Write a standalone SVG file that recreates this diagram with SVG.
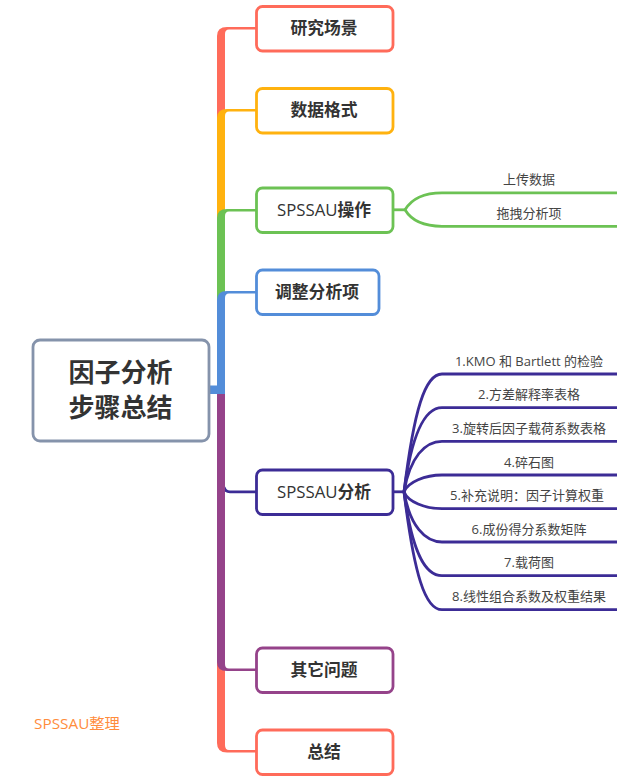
<svg xmlns="http://www.w3.org/2000/svg" width="640" height="780" viewBox="0 0 640 780">
<style>
text{font-family:"Open Sans","Noto Sans CJK SC",sans-serif;text-anchor:middle;fill:#333}
.t{font-size:16.800px;font-weight:700}
.l{font-size:16.800px;font-weight:500}
.k{font-weight:700}
.s{font-size:13px;fill:#444}
.b{fill:#fff;stroke-width:2.800}
.c{fill:none;stroke-width:2.800}
</style>
<rect width="640" height="780" fill="#fff"/>
<g id="connectors">
<path fill="#ff6b5a" d="M217 672L217 36Q217 27 227 27L256 27L256 29.500L229 29.500Q225 29.500 225 34L225 672Z"/>
<path fill="#ffb20f" d="M217 300L217 118Q217 109 227 109L256 109L256 111.500L229 111.500Q225 111.500 225 116L225 300Z"/>
<path fill="#6cc254" d="M217 300L217 218Q217 209 227 209L256 209L256 211.500L229 211.500Q225 211.500 225 216L225 300Z"/>
<path fill="#ff6b5a" d="M217 660L225 660L225 745Q225 750 229 750L256 750L256 752.500L227 752.500Q217 752.500 217 743Z"/>
<path class="c" stroke="#3c2c96" d="M224 487Q225 491.800 230 491.800L256 491.800"/>
<path fill="#95438a" d="M217 386L225 386L225 664Q225 668.500 229 668.500L256 668.500L256 671L227 671Q217 671 217 662Z"/>
<path fill="#538dd9" d="M209 385.500L217 385.500L217 300Q217 291 227 291L256 291L256 293.500L229 293.500Q225 293.500 225 298L225 394L209 394Z"/>
<g class="c" stroke="#6cc254">
<path d="M393 209.800L405 209.800"/>
<path d="M405 209.800C412 198 425 192.800 442 192.800L617 192.800"/>
<path d="M405 209.800C412 221.500 425 226.300 442 226.300L617 226.300"/>
</g>
<g class="c" stroke="#3c2c96">
<path d="M393 491.800L404 491.800"/>
<path d="M404 491.800C414 410 425 374 442 374L617 374"/>
<path d="M404 491.800C412 432 425 407.700 442 407.700L617 407.700"/>
<path d="M404 491.800C410 457 425 441.300 442 441.300L617 441.300"/>
<path d="M404 491.800C408 482 425 475 442 475L617 475"/>
<path d="M404 491.800C408 502 425 508.700 442 508.700L617 508.700"/>
<path d="M404 491.800C410 526 425 542 442 542L617 542"/>
<path d="M404 491.800C412 552 425 575.700 442 575.700L617 575.700"/>
<path d="M404 491.800C414 574 425 609.700 442 609.700L617 609.700"/>
</g>
</g>
<g id="root"><rect class="b" stroke="#8593ab" x="33" y="340" width="176" height="101" rx="7"/><text x="120.500" y="382" font-size="26" font-weight="700">因子分析</text><text x="120.500" y="417" font-size="26" font-weight="700">步骤总结</text></g>
<g id="n1"><rect class="b" stroke="#ff6b5a" x="256.500" y="6.500" width="136.500" height="44.500" rx="6"/><text class="t" x="324" y="34">研究场景</text></g>
<g id="n2"><rect class="b" stroke="#ffb20f" x="256.500" y="88.500" width="136.500" height="44.500" rx="6"/><text class="t" x="324" y="116">数据格式</text></g>
<g id="n3"><rect class="b" stroke="#6cc254" x="256.500" y="188" width="136.500" height="44.500" rx="6"/><text class="l" x="324" y="215.500">SPSSAU<tspan class="k">操作</tspan></text></g>
<g id="n4"><rect class="b" stroke="#538dd9" x="256.500" y="270" width="122.500" height="44.500" rx="6"/><text class="t" x="317" y="297.500">调整分析项</text></g>
<g id="n5"><rect class="b" stroke="#3c2c96" x="256.500" y="470" width="136.500" height="44.500" rx="6"/><text class="l" x="324" y="497.500">SPSSAU<tspan class="k">分析</tspan></text></g>
<g id="n6"><rect class="b" stroke="#95438a" x="256.500" y="648" width="136.500" height="44.500" rx="6"/><text class="t" x="324" y="675.500">其它问题</text></g>
<g id="n7"><rect class="b" stroke="#ff6b5a" x="256.500" y="730" width="136.500" height="44.500" rx="6"/><text class="t" x="324" y="757.500">总结</text></g>
<g id="s1"><text class="s" x="529" y="184">上传数据</text></g>
<g id="s2"><text class="s" x="529" y="218">拖拽分析项</text></g>
<g id="a1"><text class="s" x="529" y="366">1.KMO 和 Bartlett 的检验</text></g>
<g id="a2"><text class="s" x="529" y="399">2.方差解释率表格</text></g>
<g id="a3"><text class="s" x="529" y="433">3.旋转后因子载荷系数表格</text></g>
<g id="a4"><text class="s" x="529" y="467">4.碎石图</text></g>
<g id="a5"><text class="s" x="527" y="500">5.补充说明：因子计算权重</text></g>
<g id="a6"><text class="s" x="529" y="534">6.成份得分系数矩阵</text></g>
<g id="a7"><text class="s" x="529" y="567">7.载荷图</text></g>
<g id="a8"><text class="s" x="529" y="601">8.线性组合系数及权重结果</text></g>
<text x="77" y="729" font-size="15.300" style="fill:#ff8c3c">SPSSAU整理</text>
</svg>
